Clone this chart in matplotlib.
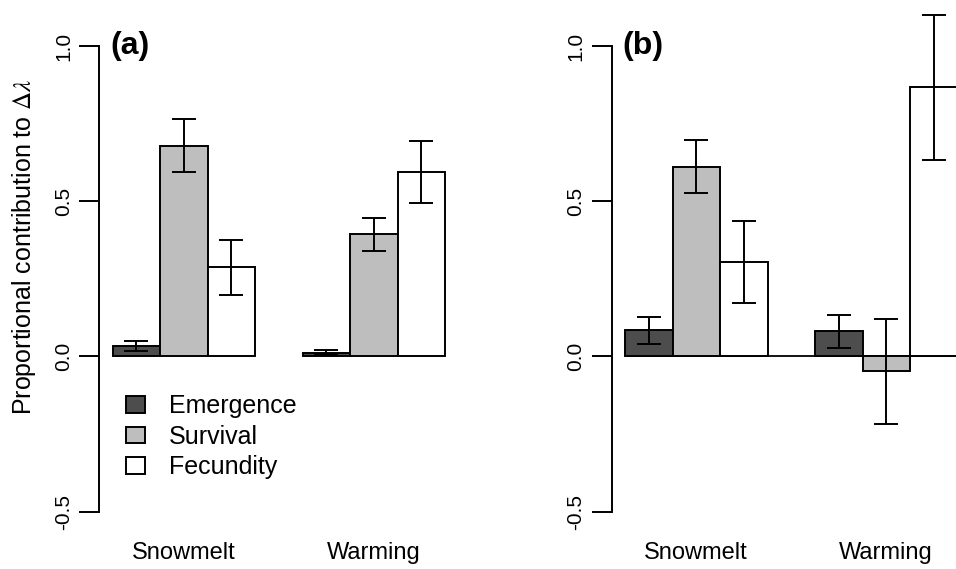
import matplotlib
matplotlib.use('Agg')
import matplotlib.pyplot as plt
import numpy as np

plt.rcParams['font.family'] = ['Liberation Sans', 'DejaVu Sans']
plt.rcParams['mathtext.fontset'] = 'stix'

# ---------------- data ----------------
categories = ['Snowmelt', 'Warming']
components = ['Emergence', 'Survival', 'Fecundity']
colors = ['#4d4d4d', '#bebebe', '#ffffff']
panel_labels = ['(a)', '(b)']

# rows: component (Emergence, Survival, Fecundity); cols: category (Snowmelt, Warming)
a_mean = [[0.034, 0.012], [0.678, 0.394], [0.288, 0.593]]
a_lower = [[0.019, 0.004], [0.594, 0.341], [0.198, 0.494]]
a_upper = [[0.050, 0.020], [0.764, 0.447], [0.375, 0.693]]

b_mean = [[0.084, 0.081], [0.611, -0.046], [0.304, 0.869]]
b_lower = [[0.039, 0.028], [0.526, -0.216], [0.171, 0.633]]
b_upper = [[0.128, 0.135], [0.696, 0.120], [0.436, 1.101]]

yticks = [-0.5, 0.0, 0.5, 1.0]
ytick_labels = ['-0.5', '0.0', '0.5', '1.0']

# ---------------- figure ----------------
fig = plt.figure(figsize=(9.56, 5.69), dpi=100)
W, H = 956, 569
zero_px, unit_px = 356.5, 310.5
ylim = (-0.56, 1.12)
xlim = (0.72, 8.28)
bar_px = 47.5
ax_w = (xlim[1] - xlim[0]) * bar_px
bottom_px = zero_px - ylim[0] * unit_px
top_px = zero_px - ylim[1] * unit_px
lefts = [99.4, 611.7]

panels = [(a_mean, a_lower, a_upper), (b_mean, b_lower, b_upper)]
axes = []
for p, (mean, lower, upper) in enumerate(panels):
    ax = fig.add_axes([lefts[p] / W, (H - bottom_px) / H, ax_w / W, (bottom_px - top_px) / H])
    axes.append(ax)
    ax.set_xlim(*xlim)
    ax.set_ylim(*ylim)
    mean = np.array(mean)
    lower = np.array(lower)
    upper = np.array(upper)
    if p == 1:
        ax.hlines(0, 1, xlim[1] + 1, color='black', lw=1.3, zorder=1)
    handles = []
    for c in range(len(components)):
        x = np.arange(len(categories)) * 4 + 1.5 + c
        h = ax.bar(x, mean[c], width=1.0, color=colors[c], edgecolor='black',
                   linewidth=1.4, zorder=2, label=components[c])
        handles.append(h)
        eb = ax.errorbar(x, mean[c], yerr=[mean[c] - lower[c], upper[c] - mean[c]],
                         fmt='none', ecolor='black', elinewidth=1.4, capsize=8.6,
                         capthick=1.4, zorder=3)
        for art in eb.lines[1] + eb.lines[2]:
            art.set_clip_on(False)
    for s in ['top', 'right', 'bottom']:
        ax.spines[s].set_visible(False)
    ax.spines['left'].set_bounds(-0.5, 1.0)
    ax.spines['left'].set_linewidth(1.4)
    ax.set_yticks(yticks)
    ax.set_yticklabels(ytick_labels, rotation=90, va='center', fontsize=15)
    ax.tick_params(axis='y', length=14.4, width=1.4, pad=4.5)
    ax.set_xticks([])
    for g, cat in enumerate(categories):
        ax.text(g * 4 + 2.5, ylim[0] - (553 - bottom_px) / unit_px, cat,
                ha='center', va='center', fontsize=17, clip_on=False)
    ax.text(0.95, 1.0, panel_labels[p], ha='left', va='center',
            fontsize=23, fontweight='bold')
    if p == 0:
        ax.legend(handles=handles, loc='upper left',
                  bbox_to_anchor=(1.28, -0.122), bbox_transform=ax.transData,
                  frameon=False, fontsize=18, handlelength=0.76, handleheight=0.64,
                  handletextpad=0.95, labelspacing=0.26, borderpad=0, borderaxespad=0)

fig.text(24 / W, 1 - 247 / H, r'Proportional contribution to $\Delta\lambda$',
         rotation=90, ha='center', va='center', fontsize=18)

fig.savefig('out.png', dpi=100)
